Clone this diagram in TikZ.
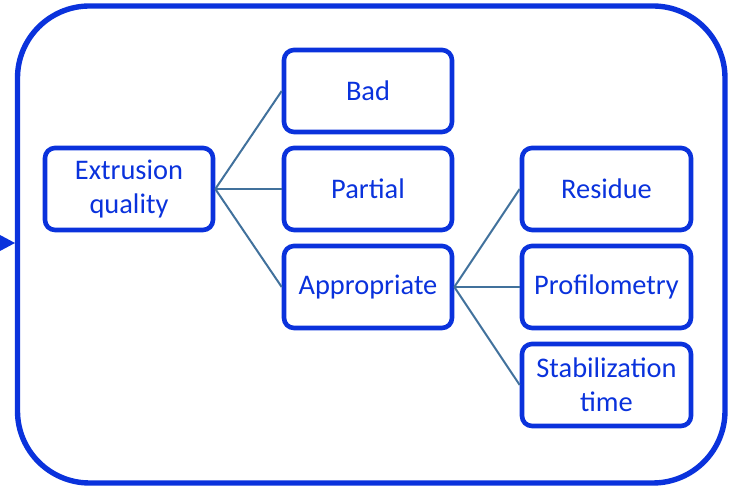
\documentclass[tikz,border=0pt]{standalone}
\usepackage{fontspec}
\setmainfont{Carlito}
\definecolor{frameblue}{HTML}{0A32DC}
\definecolor{linkblue}{HTML}{41719C}
\tikzset{
  item/.style={draw=frameblue, line width=2.3pt, rounded corners=5pt,
    minimum width=84pt, minimum height=41pt, inner sep=0pt,
    text=frameblue, align=center, font=\fontsize{14.2}{16.8}\selectfont},
  link/.style={draw=linkblue, line width=1pt}
}
\begin{document}
\begin{tikzpicture}[x=0.5pt,y=-0.5pt]
\useasboundingbox (0,0) rectangle (730,490);
% outer frame and incoming tip
\draw[frameblue, line width=2.7pt, rounded corners=36pt] (17.5,6) rectangle (725,483);
\fill[frameblue] (0,235) -- (15,243) -- (0,251) -- cycle;
% first level
\node[item] (quality) at (129,189) {Extrusion\\quality};
% second level
\node[item] (bad) at (368,91) {Bad};
\node[item] (partial) at (368,189) {Partial};
\node[item] (appropriate) at (368,287) {\raisebox{-1pt}{Appropriate}};
% third level
\node[item, minimum width=84.5pt] (residue) at (606.5,189) {Residue};
\node[item, minimum width=84.5pt] (profilometry) at (606.5,287) {\raisebox{-1pt}{Profilometry}};
\node[item, minimum width=84.5pt] (stabilization) at (606.5,385) {Stabilization\\time};
% connectors
\foreach \t in {bad,partial,appropriate}
\draw[link] (quality.east) -- (\t.west);
\foreach \t in {residue,profilometry,stabilization}
\draw[link] (appropriate.east) -- (\t.west);
\end{tikzpicture}
\end{document}
